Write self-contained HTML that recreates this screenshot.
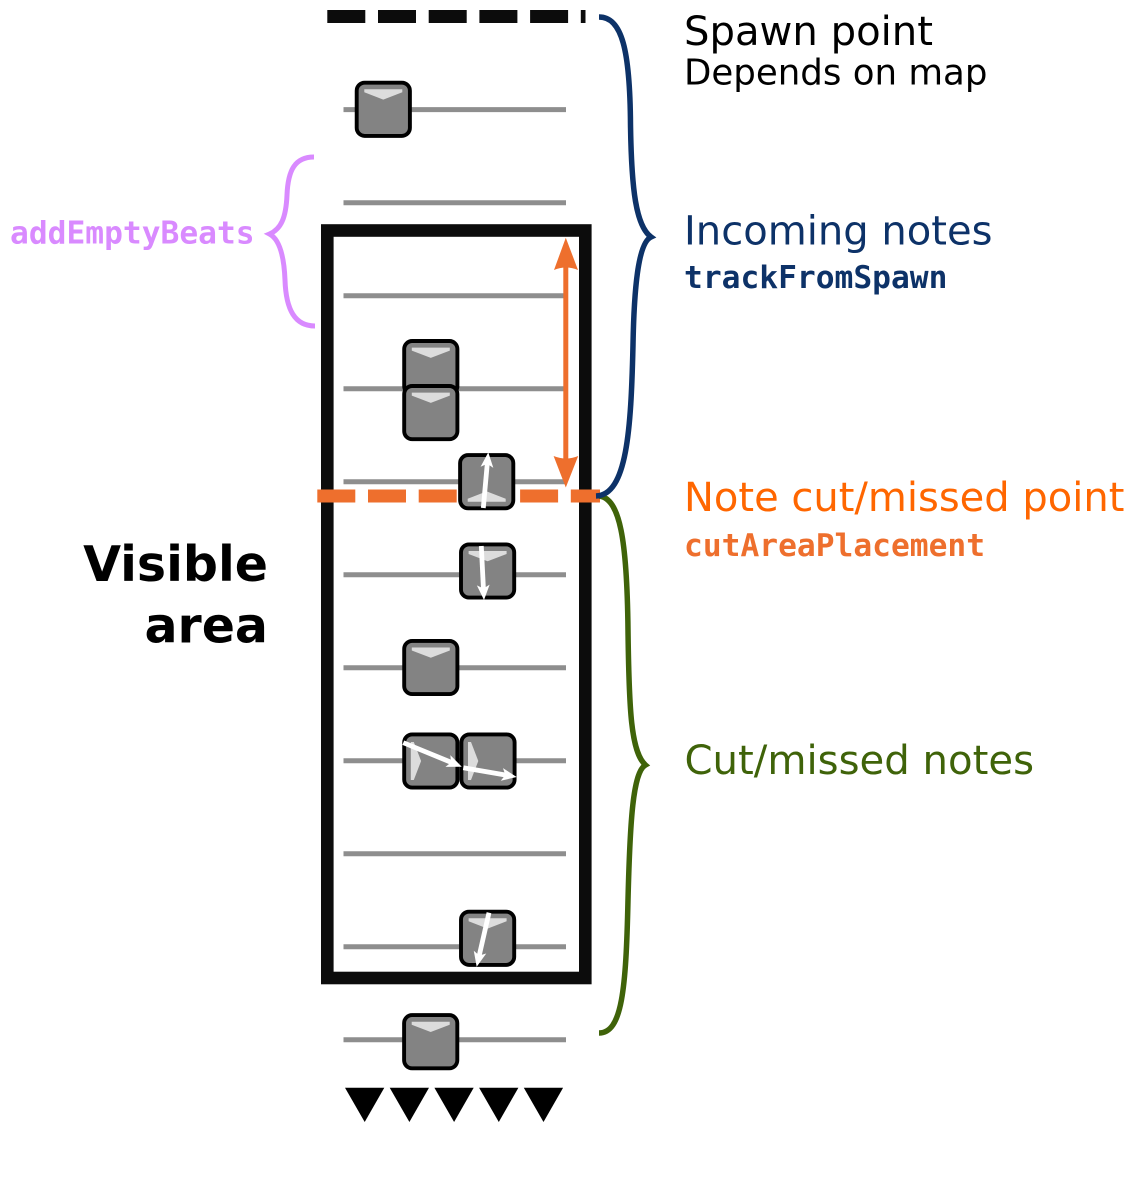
<!DOCTYPE html>
<html>
<head>
<meta charset="utf-8">
<style>
html,body{margin:0;padding:0;background:#fff;}
svg{display:block;}
text{font-family:"DejaVu Sans","Liberation Sans",sans-serif;}
.m{font-family:"DejaVu Sans Mono","Liberation Mono",monospace;font-weight:bold;font-size:31.25px;}
</style>
</head>
<body>
<svg width="1137" height="1200" viewBox="0 0 1137 1200" xmlns="http://www.w3.org/2000/svg">
<defs>
<g id="n">
<rect x="-26.6" y="-26.6" width="53.2" height="53.2" rx="8" fill="#838383" stroke="#000" stroke-width="3.9"/>
<polygon points="-19,-20 19,-20 19,-17 0,-9.7 -19,-17" fill="#dcdcdc"/>
</g>
<marker id="h" markerUnits="userSpaceOnUse" markerWidth="18" markerHeight="18" refX="5" refY="9" orient="auto" overflow="visible">
<path d="M15,9 L0,2.6 L3.5,9 L0,15.4 Z" fill="#fff"/>
</marker>
</defs>

<!-- beat lines -->
<g stroke="#8e8e8e" stroke-width="5" fill="none">
<path d="M343.5 109.6H566M343.5 202.7H566M343.5 295.7H566M343.5 388.7H566M343.5 481.7H566M343.5 574.7H566M343.5 667.7H566M343.5 760.7H566M343.5 853.7H566M343.5 946.7H566M343.5 1039.7H566"/>
</g>

<!-- frame -->
<rect x="327.3" y="230.5" width="258" height="747.5" fill="none" stroke="#0c0c0c" stroke-width="12.6"/>

<!-- spawn line -->
<path d="M327.3 16.5H585.5" stroke="#0c0c0c" stroke-width="13" stroke-dasharray="38 12.7" fill="none"/>

<!-- cut line -->
<path d="M317.3 496H600" stroke="#ee6f2d" stroke-width="13" stroke-dasharray="38 12.7" fill="none"/>

<!-- orange double arrow -->
<path d="M565.8 262V462" stroke="#ee6f2d" stroke-width="5" fill="none"/>
<path d="M565.8 237.7L578 270Q566 265 554 270Z" fill="#ee6f2d"/>
<path d="M565.8 487.5L553.6 456Q566 461 578.2 456Z" fill="#ee6f2d"/>

<!-- notes -->
<use href="#n" transform="translate(383.3 109.3)"/>
<use href="#n" transform="translate(430.8 367.6)"/>
<use href="#n" transform="translate(430.8 412.6)"/>
<use href="#n" transform="translate(486.7 481.7) rotate(180)"/>
<use href="#n" transform="translate(487.6 571)"/>
<use href="#n" transform="translate(430.8 667.5)"/>
<use href="#n" transform="translate(430.8 761) rotate(-90)"/>
<use href="#n" transform="translate(488 761) rotate(-90)"/>
<use href="#n" transform="translate(487.6 938.3)"/>
<use href="#n" transform="translate(430.7 1041.7)"/>

<!-- white arrows -->
<g stroke="#fff" stroke-width="4.8" fill="none">
<line x1="483.3" y1="508" x2="487.4" y2="462.3" marker-end="url(#h)"/>
<line x1="481.3" y1="546" x2="483.5" y2="590" marker-end="url(#h)"/>
<line x1="403.3" y1="742.7" x2="452.5" y2="762.9" marker-end="url(#h)"/>
<line x1="463.3" y1="767.7" x2="506.8" y2="775.3" marker-end="url(#h)"/>
<line x1="489" y1="912.7" x2="478.9" y2="957" marker-end="url(#h)"/>
</g>

<!-- braces -->
<path d="M599 496C620 498 627 540 628 630C629 710 631 752 645.5 765C633 772 630 820 628 900C626 990 622 1033 599 1033" fill="none" stroke="#3f6309" stroke-width="5.5"/>
<path d="M599 17C622 17 630 50 630.5 125C631.5 190 636 226 651 237C638 243 634 290 633 345C631 430 627 495 596 496" fill="none" stroke="#0d3268" stroke-width="5.5"/>
<path d="M314 157C295 157 288 170 287 195C286 218 281 229 269.5 234C279 239 284 255 285 280C286 310 295 326 315 326" fill="none" stroke="#d98aff" stroke-width="5"/>

<!-- triangles -->
<g fill="#000">
<polygon points="345,1087.7 384.3,1087.7 364.7,1122"/>
<polygon points="389.7,1087.7 429,1087.7 409.4,1122"/>
<polygon points="434.4,1087.7 473.7,1087.7 454.1,1122"/>
<polygon points="479.1,1087.7 518.4,1087.7 498.8,1122"/>
<polygon points="523.8,1087.7 563.1,1087.7 543.5,1122"/>
</g>

<!-- labels -->
<text x="684" y="45" font-size="40.15" fill="#000">Spawn point</text>
<text x="684" y="84.5" font-size="35.6" fill="#000">Depends on map</text>
<text x="684" y="244.5" font-size="40.05" fill="#0d3268">Incoming notes</text>
<text x="684" y="288" class="m" fill="#0d3268">trackFromSpawn</text>
<text x="684" y="511" font-size="40" fill="#ff6600">Note cut/missed point</text>
<text x="684" y="556" class="m" fill="#ee6f2d">cutAreaPlacement</text>
<text x="684.5" y="774" font-size="40.2" fill="#3f6309">Cut/missed notes</text>
<text x="10" y="243.5" class="m" fill="#d98aff">addEmptyBeats</text>
<text x="268" y="581" font-size="49" font-weight="bold" text-anchor="end" fill="#000">Visible</text>
<text x="268" y="642.5" font-size="49" font-weight="bold" text-anchor="end" fill="#000">area</text>
</svg>
</body>
</html>
